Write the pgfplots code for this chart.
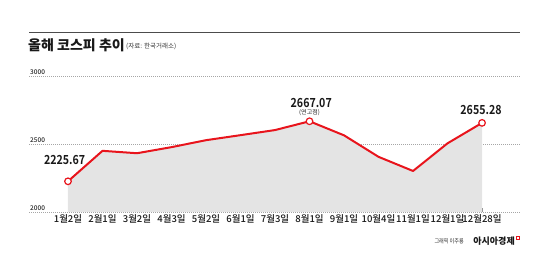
\documentclass[border=0pt]{standalone}
\usepackage{fontspec}
\setmainfont{Noto Sans CJK KR}[BoldFont={Noto Sans CJK KR Bold}]
\newfontfamily\hv{Noto Sans CJK KR Black}
\newfontfamily\md{Noto Sans CJK KR Medium}
\usepackage{pgfplots}
\pgfplotsset{compat=1.18}
\usepackage{graphicx}
\definecolor{lred}{HTML}{E8141C}
\definecolor{fillg}{HTML}{E4E4E4}
\newcommand{\cn}[1]{\scalebox{0.85}[1]{#1}}
\begin{document}
\begin{tikzpicture}
\useasboundingbox (0,0) rectangle (550pt,257pt);
\draw[black!70, line width=0.9pt] (29pt,225pt) -- (520pt,225pt);
\node[anchor=west, inner sep=0pt, text=black!90] at (28pt,212pt) {\fontsize{14}{14}\selectfont\hv 올해 코스피 추이};
\node[anchor=west, inner sep=0pt, text=black!80] at (126pt,211pt) {\fontsize{6.5}{7}\selectfont (자료: 한국거래소)};
\node[anchor=east, inner sep=0pt, text=black!80] at (464pt,16pt) {\fontsize{6}{6}\selectfont\cn{그래픽 이주룡}};
\node[anchor=east, inner sep=0pt, text=black!90] at (515pt,16pt) {\fontsize{9}{9}\selectfont\hv 아시아경제};
\draw[lred, line width=0.6pt] (516pt,17.5pt) rectangle (519pt,20.5pt);
\begin{axis}[
  at={(29pt,45pt)}, anchor=south west,
  scale only axis, width=491pt, height=136pt,
  xmin=-1.13, xmax=13.1, ymin=2000, ymax=3000,
  axis line style={draw=none},
  xtick={0,...,12},
  xticklabels={1월2일,2월1일,3월2일,4월3일,5월2일,6월1일,7월3일,8월1일,9월1일,10월4일,11월1일,12월1일,12월28일},
  xtick pos=bottom, tick align=inside, major tick length=4pt,
  xtick style={black!45, line width=0.6pt},
  xticklabel style={font=\fontsize{9.5}{9.5}\selectfont\md, text=black!90, inner sep=1pt, yshift=-1pt, /pgf/number format/assume math mode=true},
  ytick={2000,2500,3000},
  yticklabels={2000,2500,3000},
  ytick style={draw=none},
  yticklabel style={anchor=south west, font=\fontsize{6.5}{7}\selectfont\md, text=black!85, inner sep=1pt, xshift=0pt},
  ymajorgrids, grid style={black!35, dash pattern=on 1pt off 1pt, line width=0.5pt},
]
\addplot[fill=fillg, draw=none] table {
x y
0 2225.67
1 2449.80
2 2432.07
3 2476.86
4 2528.00
5 2565.00
6 2602.47
7 2667.07
8 2563.71
9 2405.69
10 2301.56
11 2505.01
12 2655.28
} \closedcycle;
\draw[black!45, line width=0.8pt] (rel axis cs:0,0) -- (rel axis cs:1,0);
\addplot[lred, line width=2pt, line join=round] table {
x y
0 2225.67
1 2449.80
2 2432.07
3 2476.86
4 2528.00
5 2565.00
6 2602.47
7 2667.07
8 2563.71
9 2405.69
10 2301.56
11 2505.01
12 2655.28
};
\addplot[only marks, mark=*, mark size=3.3pt, mark options={fill=white, draw=lred, line width=1.2pt}] table {
x y
0 2225.67
7 2667.07
12 2655.28
};
\node[inner sep=0pt, text=black!90] at (axis cs:-0.1,2385) {\fontsize{12.5}{12}\selectfont\bfseries\cn{2225.67}};
\node[inner sep=0pt, text=black!90] at (axis cs:7.05,2805) {\fontsize{12.5}{12}\selectfont\bfseries\cn{2667.07}};
\node[inner sep=0pt, text=black!85] at (axis cs:7,2728) {\fontsize{6}{6}\selectfont (연고점)};
\node[inner sep=0pt, text=black!90] at (axis cs:11.97,2750) {\fontsize{12.5}{12}\selectfont\bfseries\cn{2655.28}};
\end{axis}
\end{tikzpicture}
\end{document}
